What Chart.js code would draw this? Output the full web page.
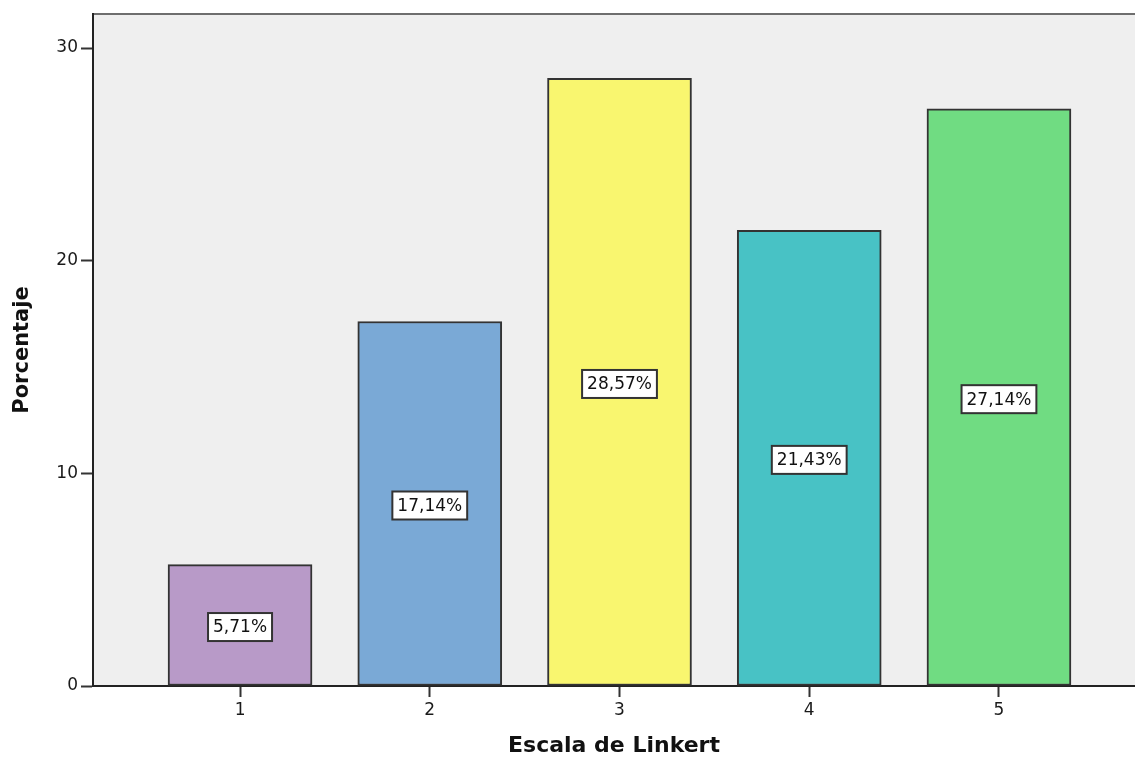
<!DOCTYPE html>
<html>
<head>
<meta charset="utf-8">
<script src="https://cdn.jsdelivr.net/npm/chart.js@4/dist/chart.umd.min.js"></script>
<style>
  html, body { margin: 0; padding: 0; background: #fff; }
  #wrap { width: 1135px; height: 760px; position: relative; }
</style>
</head>
<body>
<div id="wrap"><canvas id="likertChart"></canvas></div>
<script>
// Datos del grafico
const categorias = [1, 2, 3, 4, 5];
const porcentajes = [5.71, 17.14, 28.57, 21.43, 27.14];
const ticksY = [0, 10, 20, 30];
const coloresBarras = ['#b89ac8', '#7aa9d6', '#f9f66f', '#48c2c5', '#70dc82'];

const FONT = 'DejaVu Sans';

// Fondo gris del area de grafico y linea superior
const plotBackground = {
    id: 'plotBackground',
    beforeDraw(chart) {
        const { ctx, chartArea } = chart;
        ctx.save();
        ctx.fillStyle = '#efefef';
        ctx.fillRect(chartArea.left, chartArea.top, chartArea.right - chartArea.left, chartArea.bottom - chartArea.top);
        ctx.strokeStyle = '#6e6e6e';
        ctx.lineWidth = 2;
        ctx.beginPath();
        ctx.moveTo(chartArea.left, chartArea.top);
        ctx.lineTo(chartArea.right, chartArea.top);
        ctx.stroke();
        ctx.restore();
    }
};

// Etiquetas con recuadro blanco en el centro de cada barra
const valueBoxes = {
    id: 'valueBoxes',
    afterDatasetsDraw(chart) {
        const { ctx } = chart;
        const meta = chart.getDatasetMeta(0);
        ctx.save();
        ctx.font = '17px "' + FONT + '"';
        ctx.textAlign = 'center';
        ctx.textBaseline = 'middle';
        meta.data.forEach((bar, i) => {
            const text = porcentajes[i].toFixed(2).replace('.', ',') + '%';
            const w = ctx.measureText(text).width + 10;
            const h = 28;
            const cx = bar.x;
            const cy = (bar.y + bar.base) / 2 + 2;
            ctx.fillStyle = '#ffffff';
            ctx.fillRect(cx - w / 2, cy - h / 2, w, h);
            ctx.strokeStyle = '#333333';
            ctx.lineWidth = 2;
            ctx.strokeRect(cx - w / 2, cy - h / 2, w, h);
            ctx.fillStyle = '#111111';
            ctx.fillText(text, cx, cy + 1);
        });
        ctx.restore();
    }
};

const chart = new Chart(document.getElementById('likertChart').getContext('2d'), {
    type: 'bar',
    data: {
        datasets: [{
            label: 'Porcentaje',
            data: categorias.map((c, i) => ({ x: c, y: porcentajes[i] })),
            backgroundColor: coloresBarras,
            borderColor: '#333333',
            borderWidth: 2,
            borderSkipped: false,
            barThickness: 144
        }]
    },
    options: {
        responsive: true,
        maintainAspectRatio: false,
        animation: false,
        layout: {
            padding: { top: 14, right: 0, left: 0, bottom: 0 }
        },
        plugins: {
            legend: { display: false },
            tooltip: { enabled: false }
        },
        scales: {
            x: {
                type: 'linear',
                offset: false,
                min: 0.225,
                max: 5.717,
                afterBuildTicks(scale) {
                    scale.ticks = categorias.map(v => ({ value: v }));
                },
                afterFit(scale) {
                    scale.height = 74;
                },
                grid: {
                    offset: false,
                    drawOnChartArea: false,
                    drawTicks: true,
                    tickLength: 11,
                    tickWidth: 2,
                    tickColor: '#333333'
                },
                border: {
                    display: true,
                    color: '#222222',
                    width: 2
                },
                ticks: {
                    color: '#1a1a1a',
                    padding: 3,
                    maxRotation: 0,
                    font: { family: FONT, size: 17 }
                },
                title: {
                    display: true,
                    text: 'Escala de Linkert',
                    color: '#111111',
                    padding: { top: 0, bottom: 1 },
                    font: { family: FONT, size: 22, weight: 'bold' }
                }
            },
            y: {
                min: 0,
                max: 31.6,
                afterBuildTicks(scale) {
                    scale.ticks = ticksY.map(v => ({ value: v }));
                },
                afterFit(scale) {
                    scale.width = 93;
                },
                grid: {
                    drawOnChartArea: false,
                    drawTicks: true,
                    tickLength: 12,
                    tickWidth: 2,
                    tickColor: '#333333'
                },
                border: {
                    display: true,
                    color: '#222222',
                    width: 2
                },
                ticks: {
                    color: '#1a1a1a',
                    padding: 3,
                    font: { family: FONT, size: 17 }
                },
                title: {
                    display: true,
                    text: 'Porcentaje',
                    color: '#111111',
                    padding: { top: 10, bottom: 0 },
                    font: { family: FONT, size: 21, weight: 'bold' }
                }
            }
        }
    },
    plugins: [plotBackground, valueBoxes]
});
</script>
</body>
</html>
